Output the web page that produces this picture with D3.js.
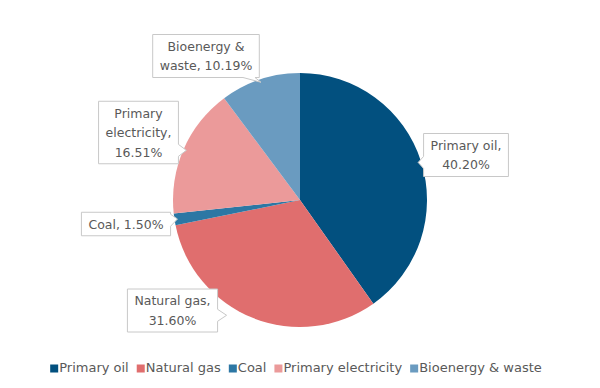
<!DOCTYPE html>
<html>
<head>
<meta charset="utf-8">
<script src="https://cdn.jsdelivr.net/npm/d3@7"></script>
<style>
  html, body { margin: 0; padding: 0; background: #fff; }
  svg { display: block; }
  text { font-family: "DejaVu Sans", sans-serif; fill: #595959; }
</style>
</head>
<body>
<svg id="chart" width="600" height="388"></svg>
<script>
// ---- data ----
const categories = ["Primary oil", "Natural gas", "Coal", "Primary electricity", "Bioenergy & waste"];
const values = [40.20, 31.60, 1.50, 16.51, 10.19];
const labelLines = [
  ["Primary oil,", "40.20%"],
  ["Natural gas,", "31.60%"],
  ["Coal, 1.50%"],
  ["Primary", "electricity,", "16.51%"],
  ["Bioenergy &", "waste, 10.19%"]
];
const colors = ["#02507f", "#e06e6e", "#2c77a4", "#eb9a9a", "#6a9bc0"];

// ---- layout (box centres, pointer side) ----
const boxLayout = [
  { cx: 466, cy: 155, side: "left" },
  { cx: 172.5, cy: 310.5, side: "right" },
  { cx: 126, cy: 224, side: "right" },
  { cx: 138.5, cy: 132.5, side: "right" },
  { cx: 206, cy: 56, side: "bottom" }
];

const svg = d3.select("#chart");
const W = 600, H = 388;
const cx = 300, cy = 200, R = 127;
const fontSize = 12.5, lineH = 19.5;

const pie = d3.pie().sort(null).value(d => d.v);
const data = categories.map((c, i) => ({ c, v: values[i], i }));
const arcs = pie(data);
const arc = d3.arc().innerRadius(0).outerRadius(R);
const color = d3.scaleOrdinal().domain(categories).range(colors);

const g = svg.append("g").attr("transform", `translate(${cx},${cy})`);
g.selectAll("path.slice").data(arcs).join("path")
  .attr("class", "slice")
  .attr("d", arc)
  .attr("fill", d => color(d.data.c));

// ---- callout labels ----
const lg = svg.append("g");
arcs.forEach((a, i) => {
  const mid = (a.startAngle + a.endAngle) / 2;
  const tr = R - 3;
  const target = [cx + tr * Math.sin(mid), cy - tr * Math.cos(mid)];
  const L = boxLayout[i];
  const lines = labelLines[i];
  const grp = lg.append("g");
  const path = grp.append("path");
  const t = grp.append("text")
    .attr("text-anchor", "middle")
    .style("font-size", fontSize + "px");
  const n = lines.length;
  lines.forEach((ln, k) => {
    t.append("tspan")
      .attr("x", L.cx)
      .attr("y", L.cy + (k - (n - 1) / 2) * lineH + fontSize * 0.36)
      .text(ln);
  });
  let maxW = 0;
  t.selectAll("tspan").each(function () { maxW = Math.max(maxW, this.getComputedTextLength()); });
  const bw = maxW + 14, bh = n * lineH + 4;
  const x0 = L.cx - bw / 2, x1 = L.cx + bw / 2, y0 = L.cy - bh / 2, y1 = L.cy + bh / 2;
  const maxLen = 9, half = 6;
  let d;
  if (L.side === "right" || L.side === "left") {
    const ex = L.side === "right" ? x1 : x0;
    const by = Math.max(y0 + half + 2, Math.min(y1 - half - 2, target[1]));
    const dx = target[0] - ex, dy = target[1] - by;
    const len = Math.hypot(dx, dy), s = Math.min(1, maxLen / len);
    const tip = [ex + dx * s, by + dy * s];
    if (L.side === "right") {
      d = `M${x0},${y0}H${x1}V${by - half}L${tip[0]},${tip[1]}L${x1},${by + half}V${y1}H${x0}Z`;
    } else {
      d = `M${x0},${y0}H${x1}V${y1}H${x0}V${by + half}L${tip[0]},${tip[1]}L${x0},${by - half}Z`;
    }
  } else {
    const bx = Math.max(x0 + half + 2, Math.min(x1 - 10, target[0] - 12));
    const dx = target[0] - bx, dy = target[1] - y1;
    const len = Math.hypot(dx, dy), s = Math.min(1, 20 / len);
    const tip = [bx + dx * s, y1 + dy * s];
    d = `M${x0},${y0}H${x1}V${y1}H${bx + half}L${tip[0]},${tip[1]}L${bx - half},${y1}H${x0}Z`;
  }
  path.attr("d", d).attr("fill", "#fff").attr("stroke", "#c8c8c8").attr("stroke-width", 1);
});

// ---- legend ----
const legend = svg.append("g");
const items = legend.selectAll("g").data(categories).join("g");
items.append("rect").attr("width", 8).attr("height", 8).attr("y", -7.5)
  .attr("fill", d => color(d));
items.append("text").attr("x", 9).attr("y", 0).style("font-size", "13px").text(d => d);
const gap = 8;
const widths = items.nodes().map(n => 9 + d3.select(n).select("text").node().getComputedTextLength());
const total = d3.sum(widths) + gap * (widths.length - 1);
let xpos = (W - total) / 2 - 4;
items.each(function (d, i) {
  d3.select(this).attr("transform", `translate(${xpos},${372})`);
  xpos += widths[i] + gap;
});
</script>
</body>
</html>
